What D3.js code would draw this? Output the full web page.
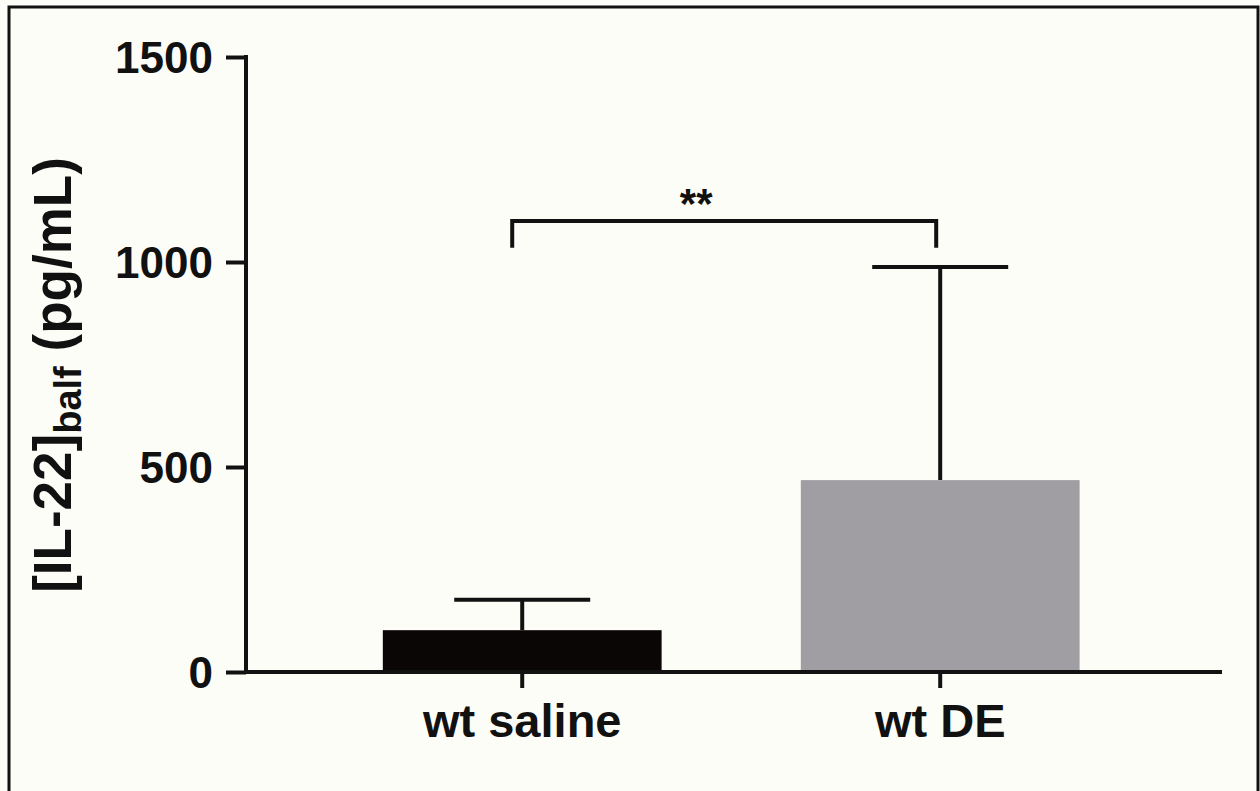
<!DOCTYPE html>
<html>
<head>
<meta charset="utf-8">
<script src="https://cdn.jsdelivr.net/npm/d3@7"></script>
<style>
  html, body { margin: 0; padding: 0; background: #fdfdf8; }
  svg { display: block; }
  text { font-family: "Liberation Sans", Arial, Helvetica, sans-serif; font-weight: bold; fill: #111; }
</style>
</head>
<body>
<svg id="chart" width="1260" height="791"></svg>
<script>
// ---- data ----
const categories = ["wt saline", "wt DE"];
const means = [102, 468];
const errors = [74, 520];
const barColors = ["#0a0606", "#a09da3"];
const yTicks = [0, 500, 1000, 1500];
const sigLabel = "**";
const sigLevel = [1100, 1035]; // bracket top and leg bottom, in data units

const svg = d3.select("#chart");

// frame
svg.append("rect")
  .attr("x", 9).attr("y", 7)
  .attr("width", 1249).attr("height", 800)
  .attr("fill", "#fdfdf8").attr("stroke", "#111").attr("stroke-width", 3);

const x0 = 246, x1 = 1222, yTop = 57, yBot = 672;

const x = d3.scaleBand().domain(categories).range([x0, x1])
  .paddingInner(0.333).paddingOuter(0.334).align(0.49);
const y = d3.scaleLinear().domain([0, 1500]).range([yBot, yTop]);

// bars
svg.selectAll("rect.bar").data(categories).join("rect")
  .attr("class", "bar")
  .attr("x", d => x(d))
  .attr("width", x.bandwidth())
  .attr("y", (d, i) => y(means[i]))
  .attr("height", (d, i) => y(0) - y(means[i]))
  .attr("fill", (d, i) => barColors[i]);

// error bars (upper only)
const capHalf = 68;
const eb = svg.append("g").attr("stroke", "#111").attr("stroke-width", 4).attr("fill", "none");
categories.forEach((c, i) => {
  const cx = x(c) + x.bandwidth() / 2;
  eb.append("line").attr("x1", cx).attr("x2", cx)
    .attr("y1", y(means[i])).attr("y2", y(means[i] + errors[i]));
  eb.append("line").attr("x1", cx - capHalf).attr("x2", cx + capHalf)
    .attr("y1", y(means[i] + errors[i])).attr("y2", y(means[i] + errors[i]));
});

// y axis
const yAxis = svg.append("g").attr("transform", `translate(${x0},0)`)
  .call(d3.axisLeft(y).tickValues(yTicks).tickFormat(d3.format("d"))
    .tickSize(20).tickPadding(13).tickSizeOuter(0));
yAxis.select(".domain").attr("stroke", "#111").attr("stroke-width", 4)
  .attr("d", `M0,${yTop - 2}V${yBot + 2}`);
yAxis.selectAll(".tick line").attr("stroke", "#111").attr("stroke-width", 4);
yAxis.selectAll(".tick text").style("font-size", "44px").attr("fill", "#111").attr("dy", "0.36em");

// x axis
const xAxis = svg.append("g").attr("transform", `translate(0,${yBot})`)
  .call(d3.axisBottom(x).tickSize(16).tickPadding(14).tickSizeOuter(0));
xAxis.select(".domain").attr("stroke", "#111").attr("stroke-width", 4)
  .attr("d", `M${x0 - 2},0H${x1}`);
xAxis.selectAll(".tick line").attr("stroke", "#111").attr("stroke-width", 4);
xAxis.selectAll(".tick text").style("font-size", "47px").attr("fill", "#111").attr("dy", "0.75em");

// significance bracket
const bx1 = x(categories[0]) + x.bandwidth() / 2 - 10;
const bx2 = x(categories[1]) + x.bandwidth() / 2 - 4;
svg.append("path")
  .attr("d", `M${bx1},${y(sigLevel[1])}V${y(sigLevel[0])}H${bx2}V${y(sigLevel[1])}`)
  .attr("fill", "none").attr("stroke", "#111").attr("stroke-width", 4);
svg.append("text")
  .attr("x", (bx1 + bx2) / 2 - 28).attr("y", y(sigLevel[0]) - 3)
  .attr("text-anchor", "middle")
  .style("font-size", "42px")
  .text(sigLabel);

// y label
const yl = svg.append("text")
  .attr("transform", "translate(71,375) rotate(-90)")
  .attr("text-anchor", "middle")
  .style("font-size", "53px");
yl.append("tspan").text("[IL-22]");
yl.append("tspan").attr("dy", 10).style("font-size", "38px").text("balf");
yl.append("tspan").attr("dy", -10).text(" (pg/mL)");
</script>
</body>
</html>
